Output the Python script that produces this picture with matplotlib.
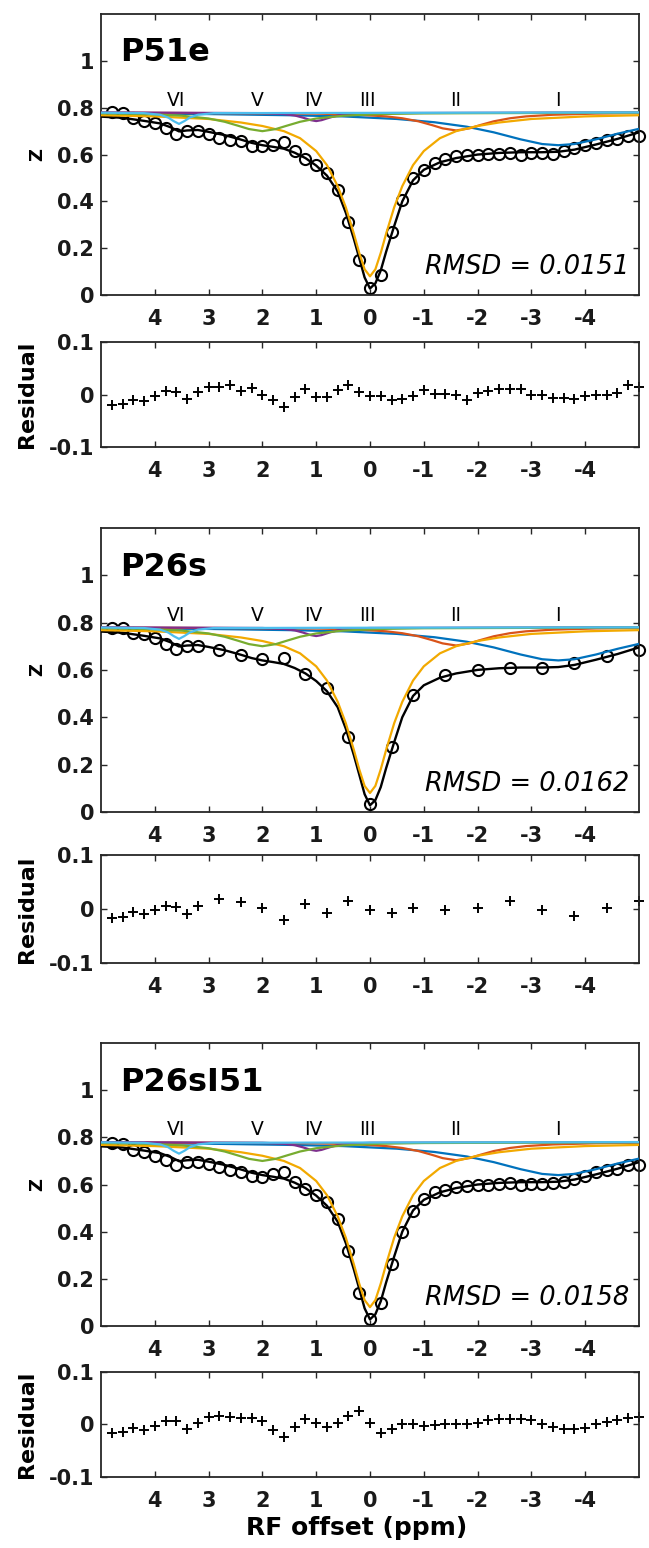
import matplotlib.pyplot as plt

plt.rcParams['font.family'] = ['DejaVu Sans']
plt.rcParams['axes.unicode_minus'] = False

# RF offsets (ppm)
offs_51 = [4.8, 4.6, 4.4, 4.2, 4.0, 3.8, 3.6, 3.4, 3.2, 3.0,
           2.8, 2.6, 2.4, 2.2, 2.0, 1.8, 1.6, 1.4, 1.2, 1.0,
           0.8, 0.6, 0.4, 0.2, 0.0, -0.2, -0.4, -0.6, -0.8, -1.0,
           -1.2, -1.4, -1.6, -1.8, -2.0, -2.2, -2.4, -2.6, -2.8, -3.0,
           -3.2, -3.4, -3.6, -3.8, -4.0, -4.2, -4.4, -4.6, -4.8, -5.0]
offs_26 = [4.8, 4.6, 4.4, 4.2, 4.0, 3.8, 3.6, 3.4, 3.2, 2.8,
           2.4, 2.0, 1.6, 1.2, 0.8, 0.4, 0.0, -0.4, -0.8, -1.4,
           -2.0, -2.6, -3.2, -3.8, -4.4, -5.0]

# measured Z spectra
z_p51e = [0.780, 0.777, 0.757, 0.743, 0.733, 0.714, 0.686, 0.700, 0.700, 0.686,
          0.671, 0.664, 0.657, 0.636, 0.636, 0.639, 0.653, 0.614, 0.579, 0.557,
          0.521, 0.450, 0.314, 0.150, 0.029, 0.086, 0.271, 0.407, 0.500, 0.536,
          0.564, 0.581, 0.593, 0.600, 0.600, 0.604, 0.604, 0.607, 0.600, 0.607,
          0.607, 0.604, 0.614, 0.626, 0.639, 0.650, 0.664, 0.667, 0.679, 0.681]
z_p26s = [0.778, 0.775, 0.757, 0.750, 0.735, 0.711, 0.690, 0.700, 0.700, 0.686,
          0.665, 0.644, 0.651, 0.584, 0.523, 0.315, 0.033, 0.273, 0.495, 0.577,
          0.601, 0.608, 0.608, 0.629, 0.660, 0.686]
z_p26si51 = [0.778, 0.773, 0.748, 0.738, 0.723, 0.702, 0.681, 0.695, 0.695, 0.685,
             0.674, 0.662, 0.652, 0.638, 0.631, 0.645, 0.652, 0.610, 0.582, 0.556,
             0.525, 0.454, 0.319, 0.142, 0.028, 0.099, 0.262, 0.397, 0.489, 0.539,
             0.567, 0.577, 0.589, 0.593, 0.596, 0.600, 0.603, 0.606, 0.600, 0.603,
             0.603, 0.606, 0.610, 0.624, 0.638, 0.652, 0.662, 0.667, 0.681, 0.681]

# residuals
res_p51e = [-0.019, -0.017, -0.010, -0.012, -0.002, 0.006, 0.005, -0.008, 0.005, 0.015,
            0.015, 0.018, 0.006, 0.012, 0.000, -0.010, -0.024, -0.005, 0.010, -0.005,
            -0.005, 0.008, 0.019, 0.005, -0.003, -0.002, -0.010, -0.008, -0.003, 0.008,
            0.002, 0.002, -0.001, -0.010, 0.003, 0.006, 0.010, 0.010, 0.010, -0.001,
            -0.001, -0.006, -0.006, -0.008, -0.002, -0.001, -0.001, 0.003, 0.018, 0.015]
res_p26s = [-0.016, -0.014, -0.005, -0.009, -0.001, 0.005, 0.004, -0.009, 0.006, 0.019,
            0.0125, 0.001, -0.021, 0.009, -0.0075, 0.015, -0.001, -0.0075, 0.001, -0.002,
            0.001, 0.014, -0.002, -0.0125, 0.002, 0.014]
res_p26si51 = [-0.016, -0.014, -0.006, -0.011, -0.003, 0.007, 0.007, -0.008, 0.002, 0.015,
               0.016, 0.014, 0.012, 0.012, 0.006, -0.011, -0.023, -0.005, 0.010, 0.002,
               -0.005, 0.002, 0.017, 0.026, 0.002, -0.017, -0.008, 0.000, 0.000, -0.003,
               -0.001, 0.000, 0.000, 0.000, 0.003, 0.008, 0.010, 0.010, 0.010, 0.008,
               0.000, -0.005, -0.008, -0.008, -0.006, 0.000, 0.005, 0.008, 0.013, 0.015]

samples = ['P51e', 'P26s', 'P26sI51']
rmsd = ['0.0151', '0.0162', '0.0158']

# total fit
fit_x = [5.0, 4.6, 4.2, 3.9, 3.7, 3.55, 3.4, 3.2, 3.0, 2.7,
         2.4, 2.2, 2.0, 1.8, 1.6, 1.4, 1.2, 1.0, 0.8, 0.6,
         0.45, 0.3, 0.2, 0.1, 0.0, -0.1, -0.2, -0.3, -0.45, -0.6,
         -0.8, -1.0, -1.3, -1.6, -2.0, -2.4, -2.8, -3.2, -3.5, -3.8,
         -4.2, -4.6, -5.0]
fit_z = [0.762, 0.757, 0.744, 0.733, 0.716, 0.699, 0.703, 0.705, 0.697, 0.683,
         0.664, 0.650, 0.640, 0.633, 0.625, 0.608, 0.585, 0.553, 0.510, 0.442,
         0.352, 0.240, 0.158, 0.075, 0.028, 0.050, 0.105, 0.185, 0.295, 0.400,
         0.490, 0.535, 0.567, 0.585, 0.600, 0.607, 0.610, 0.610, 0.612, 0.621,
         0.643, 0.667, 0.695]

# single-pool components, I..VI
pool1_x = [5.0, 3.0, 1.5, 0.5, -0.5, -1.2, -1.8, -2.3, -2.8, -3.2, -3.5, -3.8, -4.2, -4.6, -5.0]
pool1_z = [0.776, 0.773, 0.768, 0.763, 0.752, 0.738, 0.719, 0.695, 0.665, 0.645, 0.640, 0.645,
           0.665, 0.689, 0.710]
pool2_x = [5.0, 1.0, 0.2, -0.3, -0.6, -0.9, -1.15, -1.35, -1.6, -1.85, -2.05, -2.3, -2.6, -2.9,
           -3.4, -4.2, -5.0]
pool2_z = [0.779, 0.775, 0.770, 0.763, 0.755, 0.742, 0.726, 0.712, 0.703, 0.712, 0.726, 0.742,
           0.755, 0.763, 0.770, 0.775, 0.777]
pool3_x = [5.0, 4.0, 3.0, 2.4, 2.0, 1.6, 1.3, 1.0, 0.8, 0.6, 0.45, 0.3, 0.2, 0.1, 0.0,
           -0.1, -0.2, -0.3, -0.45, -0.6, -0.8, -1.0, -1.3, -1.6, -2.0, -2.4, -3.0, -4.0, -5.0]
pool3_z = [0.768, 0.763, 0.752, 0.737, 0.722, 0.700, 0.670, 0.615, 0.555, 0.465, 0.375, 0.262,
           0.180, 0.110, 0.080, 0.110, 0.180, 0.262, 0.375, 0.465, 0.555, 0.615, 0.670, 0.700,
           0.722, 0.737, 0.752, 0.763, 0.768]
pool4_x = [5.0, 2.0, 1.6, 1.4, 1.25, 1.1, 1.0, 0.9, 0.75, 0.6, 0.4, 0.0, -5.0]
pool4_z = [0.780, 0.777, 0.773, 0.767, 0.758, 0.747, 0.743, 0.747, 0.758, 0.767, 0.773, 0.777, 0.780]
pool5_x = [5.0, 4.2, 3.5, 3.0, 2.7, 2.45, 2.25, 2.0, 1.75, 1.55, 1.3, 1.0, 0.5, -0.2, -1.0, -5.0]
pool5_z = [0.776, 0.773, 0.766, 0.754, 0.740, 0.723, 0.709, 0.700, 0.709, 0.723, 0.740, 0.754,
           0.766, 0.773, 0.776, 0.779]
pool6_x = [5.0, 4.2, 3.9, 3.75, 3.65, 3.55, 3.45, 3.35, 3.2, 2.9, -5.0]
pool6_z = [0.779, 0.777, 0.770, 0.758, 0.743, 0.731, 0.743, 0.758, 0.770, 0.777, 0.780]

pool_names = ['I', 'II', 'III', 'IV', 'V', 'VI']
pool_label_x = [-3.5, -1.6, 0.05, 1.05, 2.1, 3.6]
pool_colors = ['#0072BD', '#D95319', '#F2A900', '#7E2F8E', '#77AC30', '#4DBEEE']

pools = [(pool1_x, pool1_z), (pool2_x, pool2_z), (pool3_x, pool3_z),
         (pool4_x, pool4_z), (pool5_x, pool5_z), (pool6_x, pool6_z)]
data = [(offs_51, z_p51e, res_p51e), (offs_26, z_p26s, res_p26s),
        (offs_51, z_p26si51, res_p26si51)]

xticks = [4, 3, 2, 1, 0, -1, -2, -3, -4]
axis_color = '#262626'

# axes boxes in figure fraction: (main, residual)
boxes = [([0.1556, 0.8094, 0.829, 0.1815], [0.1556, 0.7112, 0.829, 0.0678]),
         ([0.1556, 0.4755, 0.829, 0.1835], [0.1556, 0.3779, 0.829, 0.0698]),
         ([0.1556, 0.1434, 0.829, 0.1828], [0.1556, 0.0459, 0.829, 0.0678])]


def style(ax, yticks, ylabels):
    ax.set_xlim(5, -5)
    ax.set_xticks(xticks)
    ax.set_xticklabels([str(t) for t in xticks])
    ax.set_yticks(yticks)
    ax.set_yticklabels(ylabels)
    ax.tick_params(direction='in', top=True, right=True, length=4, width=1.0,
                   colors=axis_color, labelcolor='#1a1a1a', labelsize=15)
    ax.tick_params(axis='x', pad=10)
    ax.tick_params(axis='y', pad=5)
    for lab in ax.get_xticklabels() + ax.get_yticklabels():
        lab.set_fontweight('bold')
    for sp in ax.spines.values():
        sp.set_linewidth(1.3)
        sp.set_color(axis_color)


fig = plt.figure(figsize=(6.49, 15.48), dpi=100)

for i in range(3):
    offs, z, res = data[i]
    ax = fig.add_axes(boxes[i][0])
    ax.plot(offs, z, 'o', mfc='none', mec='k', ms=8, mew=1.5, clip_on=False, zorder=2)
    ax.plot(fit_x, fit_z, '-', color='k', lw=1.7, zorder=3)
    for (px, pz), c in zip(pools, pool_colors):
        ax.plot(px, pz, '-', color=c, lw=1.6, zorder=4)
    for name, lx in zip(pool_names, pool_label_x):
        ax.text(lx, 0.808, name, ha='center', va='baseline', fontsize=13.5)
    ax.set_ylim(0, 1.2)
    style(ax, [0, 0.2, 0.4, 0.6, 0.8, 1], ['0', '0.2', '0.4', '0.6', '0.8', '1'])
    ax.text(0.035, 0.832, samples[i], transform=ax.transAxes, ha='left', va='baseline',
            fontsize=23, fontweight='bold')
    ax.text(0.982, 0.075, 'RMSD = ' + rmsd[i], transform=ax.transAxes, ha='right',
            va='baseline', fontsize=18.5, style='italic')
    ax.text(-0.118, 0.5, 'Z', transform=ax.transAxes, rotation=90, ha='center',
            va='center', fontsize=13, fontweight='bold')

    rax = fig.add_axes(boxes[i][1])
    rax.plot(offs, res, '+', color='k', ms=7, mew=1.4, clip_on=False)
    rax.set_ylim(-0.1, 0.1)
    style(rax, [-0.1, 0, 0.1], ['-0.1', '0', '0.1'])
    rax.text(-0.137, 0.5, 'Residual', transform=rax.transAxes, rotation=90, ha='center',
             va='center', fontsize=16, fontweight='bold')

fig.text(0.55, 0.0129, 'RF offset (ppm)', ha='center', va='center', fontsize=18,
         fontweight='bold')

fig.savefig('out.png', dpi=100)
